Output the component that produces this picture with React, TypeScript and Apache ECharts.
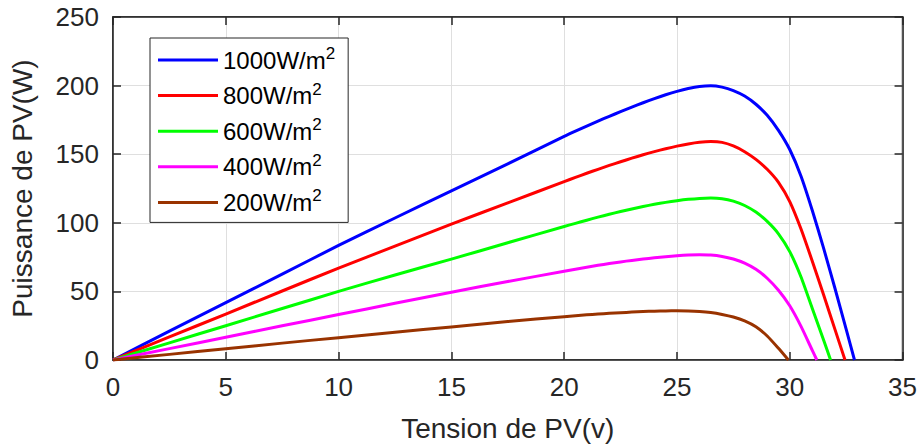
import React, { useEffect, useRef } from 'react';
import * as echarts from 'echarts';

// Irradiance curves: voltage (V) and power (W)
const seriesNames = ['1000W/m²', '800W/m²', '600W/m²', '400W/m²', '200W/m²'];
const seriesColors = ['#0000ff', '#ff0000', '#00ff00', '#ff00ff', '#993300'];

const v1000 = [0, 2.5, 5, 7.5, 10, 12.5, 15, 17.5, 20, 20.5, 21, 21.5, 22, 22.5, 23, 23.5, 24, 24.5, 25, 25.5, 26, 26.5, 27, 27.5, 28, 28.5, 29, 29.5, 30, 30.5, 31, 31.5, 32, 32.5, 32.87];
const p1000 = [0, 21, 41.8, 62.6, 83.5, 103.5, 123.3, 143, 163, 166.8, 170.5, 174.1, 177.6, 181, 184.3, 187.5, 190.5, 193.3, 195.8, 197.9, 199.4, 199.9, 198.9, 196.4, 192.4, 186.4, 178.4, 167.4, 153.4, 134, 109, 81.5, 52.5, 22.5, 0];

const v800 = [0, 2.5, 5, 7.5, 10, 12.5, 15, 17.5, 20, 20.5, 21, 21.5, 22, 22.5, 23, 23.5, 24, 24.5, 25, 25.5, 26, 26.5, 27, 27.5, 28, 28.5, 29, 29.5, 30, 30.5, 31, 31.5, 32, 32.45];
const p800 = [0, 16.8, 33.5, 50.3, 67, 83, 99, 114.5, 130, 133.1, 136.1, 139, 141.8, 144.5, 147.1, 149.6, 151.9, 154, 155.9, 157.5, 158.7, 159.2, 158.6, 156, 151.8, 146.2, 139, 129.5, 115.5, 95.5, 72, 47.5, 22.5, 0];

const v600 = [0, 2.5, 5, 7.5, 10, 12.5, 15, 17.5, 20, 20.5, 21, 21.5, 22, 22.5, 23, 23.5, 24, 24.5, 25, 25.5, 26, 26.5, 27, 27.5, 28, 28.5, 29, 29.5, 30, 30.5, 31, 31.5, 31.81];
const p600 = [0, 12.5, 25, 37.5, 50, 62, 73.5, 85.5, 97.3, 99.6, 101.9, 104.1, 106.2, 108.2, 110.1, 111.9, 113.5, 114.9, 116.1, 117.1, 117.8, 118.1, 117.6, 115.8, 112.6, 107.8, 101, 92, 79, 60.5, 37.5, 14.5, 0];

const v400 = [0, 2.5, 5, 7.5, 10, 12.5, 15, 17.5, 20, 20.5, 21, 21.5, 22, 22.5, 23, 23.5, 24, 24.5, 25, 25.5, 26, 26.5, 27, 27.5, 28, 28.5, 29, 29.5, 30, 30.5, 31, 31.2];
const p400 = [0, 8.3, 16.6, 24.9, 33.1, 41.3, 49.4, 57.2, 64.7, 66.2, 67.6, 69, 70.3, 71.5, 72.6, 73.6, 74.5, 75.3, 76, 76.5, 76.7, 76.5, 75.5, 73.6, 70.6, 66.1, 59.6, 50.8, 39.5, 24.5, 7, 0];

const v200 = [0, 2.5, 5, 7.5, 10, 12.5, 15, 17.5, 20, 20.5, 21, 21.5, 22, 22.5, 23, 23.5, 24, 24.5, 25, 25.5, 26, 26.5, 27, 27.5, 28, 28.5, 29, 29.5, 29.94];
const p200 = [0, 4.1, 8.2, 12.3, 16.3, 20.3, 24.1, 28, 31.6, 32.3, 32.9, 33.5, 34, 34.5, 34.9, 35.3, 35.6, 35.8, 35.9, 35.8, 35.4, 34.6, 33.2, 31.3, 28.5, 24.2, 17.5, 8.5, 0];

const voltages = [v1000, v800, v600, v400, v200];
const powers = [p1000, p800, p600, p400, p200];

const xMin = 0, xMax = 35, xStep = 5;
const yMin = 0, yMax = 250, yStep = 50;

const xTitle = 'Tension de PV(v)';
const yTitle = 'Puissance de PV(W)';

const FONT = '"Liberation Sans", Arial, Helvetica, sans-serif';
const AXIS = '#262626';
const GRID = '#dfdfdf';

export default function App() {
  const ref = useRef<HTMLDivElement>(null);

  useEffect(() => {
    if (!ref.current) return;
    const chart = echarts.init(ref.current, undefined, { renderer: 'svg' });

    const tickCommon = { show: true, inside: true, length: 8, lineStyle: { color: AXIS, width: 1.5 } };
    const lineCommon = { show: true, onZero: false, lineStyle: { color: AXIS, width: 1.5 } };

    const series = seriesNames.map((name, i) => ({
      name,
      type: 'line',
      xAxisIndex: 0,
      yAxisIndex: 0,
      data: voltages[i].map((v, k) => [v, powers[i][k]]),
      showSymbol: false,
      symbol: 'none',
      smooth: 0.2,
      color: seriesColors[i],
      itemStyle: { color: seriesColors[i] },
      lineStyle: { color: seriesColors[i], width: 3, join: 'round' },
      z: 3,
    }));

    chart.setOption({
      animation: false,
      backgroundColor: '#ffffff',
      grid: {
        left: 113, right: 17, top: 17, bottom: 84,
        show: true, borderColor: AXIS, borderWidth: 1.5, backgroundColor: 'transparent',
      },
      legend: {
        orient: 'vertical',
        left: 150,
        top: 38,
        icon: 'rect',
        itemWidth: 60,
        itemHeight: 3,
        itemGap: 8.6,
        padding: [7, 13, 8, 8],
        borderColor: AXIS,
        borderWidth: 1,
        backgroundColor: '#ffffff',
        data: seriesNames,
        formatter: (n: string) => `{a|${n.replace('²', '')}}{s|2}`,
        textStyle: {
          rich: {
            a: { fontSize: 24, lineHeight: 30, color: '#000', fontFamily: FONT },
            s: { fontSize: 17, lineHeight: 17, verticalAlign: 'top', color: '#000', fontFamily: FONT },
          },
        },
      },
      xAxis: [
        {
          type: 'value', min: xMin, max: xMax, interval: xStep, position: 'bottom',
          axisLine: lineCommon, axisTick: tickCommon,
          axisLabel: { color: AXIS, fontSize: 26, fontFamily: FONT, margin: 14 },
          splitLine: { show: true, lineStyle: { color: GRID, width: 1 } },
          name: xTitle, nameLocation: 'middle', nameGap: 54,
          nameTextStyle: { color: AXIS, fontSize: 28, fontFamily: FONT },
        },
        {
          type: 'value', min: xMin, max: xMax, interval: xStep, position: 'top',
          axisLine: lineCommon, axisTick: tickCommon,
          axisLabel: { show: false }, splitLine: { show: false },
        },
      ],
      yAxis: [
        {
          type: 'value', min: yMin, max: yMax, interval: yStep, position: 'left',
          axisLine: lineCommon, axisTick: tickCommon,
          axisLabel: { color: AXIS, fontSize: 26, fontFamily: FONT, margin: 14 },
          splitLine: { show: true, lineStyle: { color: GRID, width: 1 } },
          name: yTitle, nameLocation: 'middle', nameGap: 77,
          nameTextStyle: { color: AXIS, fontSize: 28, fontFamily: FONT },
        },
        {
          type: 'value', min: yMin, max: yMax, interval: yStep, position: 'right',
          axisLine: lineCommon, axisTick: tickCommon,
          axisLabel: { show: false }, splitLine: { show: false },
        },
      ],
      series,
    });

    return () => chart.dispose();
  }, []);

  return (
    <div
      ref={ref}
      style={{ position: 'fixed', left: 0, top: 0, width: 920, height: 447, background: '#fff' }}
    />
  );
}
